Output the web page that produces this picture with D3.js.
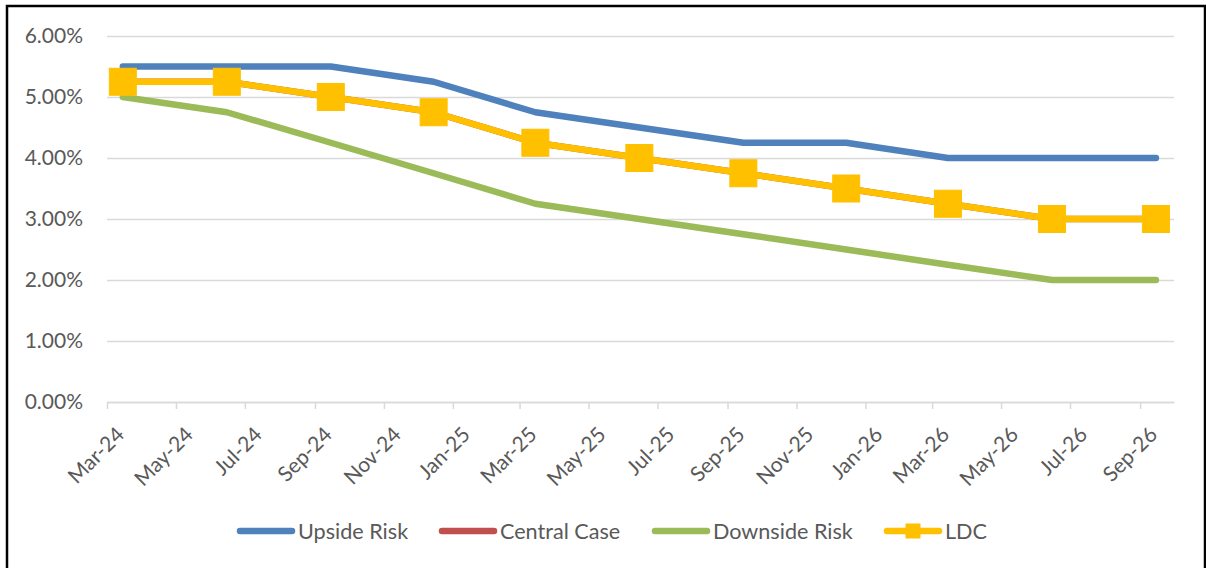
<!DOCTYPE html>
<html>
<head>
<meta charset="utf-8">
<script src="https://cdn.jsdelivr.net/npm/d3@7"></script>
<style>
  html, body { margin: 0; padding: 0; background: #fff; }
  svg { display: block; }
  text { font-family: Lato, "Open Sans", sans-serif; fill: #595959; }
</style>
</head>
<body>
<svg id="chart" width="1206" height="568"></svg>
<script>
// Quarterly rate path, Mar-24 to Sep-26
const dates = ["2024-03-15", "2024-06-15", "2024-09-15", "2024-12-15",
               "2025-03-15", "2025-06-15", "2025-09-15", "2025-12-15",
               "2026-03-15", "2026-06-15", "2026-09-15"];
const upsideRisk   = [5.50, 5.50, 5.50, 5.25, 4.75, 4.50, 4.25, 4.25, 4.00, 4.00, 4.00];
const centralCase  = [5.25, 5.25, 5.00, 4.75, 4.25, 4.00, 3.75, 3.50, 3.25, 3.00, 3.00];
const downsideRisk = [5.00, 4.75, 4.25, 3.75, 3.25, 3.00, 2.75, 2.50, 2.25, 2.00, 2.00];
const ldc          = [5.25, 5.25, 5.00, 4.75, 4.25, 4.00, 3.75, 3.50, 3.25, 3.00, 3.00];
const yTicks = [0, 1, 2, 3, 4, 5, 6];
const xDomain = ["2024-03-01", "2026-10-01"];

const parse = d3.utcParse("%Y-%m-%d");
const series = [
  { name: "Upside Risk",   values: upsideRisk,   color: "#4f81bd", marker: false },
  { name: "Central Case",  values: centralCase,  color: "#c0504d", marker: false },
  { name: "Downside Risk", values: downsideRisk, color: "#9bbb59", marker: false },
  { name: "LDC",           values: ldc,          color: "#ffc000", marker: true }
];

const svg = d3.select("#chart");
const plot = { left: 107, right: 1174, top: 36, bottom: 402 };

const x = d3.scaleUtc().domain(xDomain.map(parse)).range([plot.left, plot.right]);
const y = d3.scaleLinear().domain([0, 6]).range([plot.bottom, plot.top]);

// Outer frame
svg.append("rect")
  .attr("x", 7).attr("y", 6).attr("width", 1198).attr("height", 600)
  .attr("fill", "none").attr("stroke", "#000").attr("stroke-width", 2.5);

// Horizontal gridlines + y labels
const yAxis = d3.axisLeft(y).tickValues(yTicks)
  .tickSize(-(plot.right - plot.left))
  .tickFormat(d => d.toFixed(2) + "%")
  .tickPadding(24);
const gy = svg.append("g").attr("transform", `translate(${plot.left},0)`).call(yAxis);
gy.select(".domain").remove();
gy.selectAll(".tick line").attr("stroke", "#d9d9d9").attr("stroke-width", 1.5);
gy.selectAll(".tick text").style("font-size", "21px").attr("fill", "#595959");

// Date axis with tick marks every two months
const xAxis = d3.axisBottom(x)
  .ticks(d3.utcMonth.every(2))
  .tickFormat(d3.utcFormat("%b-%y"))
  .tickSizeOuter(0).tickSizeInner(7);
const gx = svg.append("g").attr("transform", `translate(0,${plot.bottom})`).call(xAxis);
gx.select(".domain").attr("stroke", "#d9d9d9").attr("stroke-width", 1.5);
gx.selectAll(".tick line").attr("stroke", "#d9d9d9").attr("stroke-width", 1.5);
gx.selectAll(".tick text")
  .style("font-size", "21px")
  .attr("fill", "#595959")
  .attr("text-anchor", "end")
  .attr("x", 0).attr("y", 0).attr("dy", 0)
  .attr("transform", "translate(18,34) rotate(-45)");

// Lines
const line = d3.line()
  .x((d, i) => x(parse(dates[i])))
  .y(d => y(d));

series.forEach(s => {
  svg.append("path")
    .datum(s.values)
    .attr("d", line)
    .attr("fill", "none")
    .attr("stroke", s.color)
    .attr("stroke-width", 6.5)
    .attr("stroke-linejoin", "round")
    .attr("stroke-linecap", "round");
  if (s.marker) {
    const m = 27;
    svg.append("g").selectAll("rect")
      .data(s.values)
      .join("rect")
      .attr("x", (d, i) => x(parse(dates[i])) - m / 2)
      .attr("y", d => y(d) - m / 2)
      .attr("width", m).attr("height", m)
      .attr("fill", s.color)
      .attr("stroke", s.color).attr("stroke-width", 1);
  }
});

// Legend
const legendItems = [
  { s: series[0], x: 237 },
  { s: series[1], x: 439 },
  { s: series[2], x: 652 },
  { s: series[3], x: 884 }
];
const ly = 531;
const lg = svg.append("g");
legendItems.forEach(it => {
  lg.append("line")
    .attr("x1", it.x + 3).attr("x2", it.x + 55)
    .attr("y1", ly).attr("y2", ly)
    .attr("stroke", it.s.color).attr("stroke-width", 6.5)
    .attr("stroke-linecap", "round");
  if (it.s.marker) {
    lg.append("rect")
      .attr("x", it.x + 29 - 7.5).attr("y", ly - 7.5)
      .attr("width", 15).attr("height", 15)
      .attr("fill", it.s.color);
  }
  lg.append("text")
    .attr("x", it.x + 61).attr("y", ly)
    .attr("dy", "0.35em")
    .style("font-size", "21.6px")
    .text(it.s.name);
});
</script>
</body>
</html>
